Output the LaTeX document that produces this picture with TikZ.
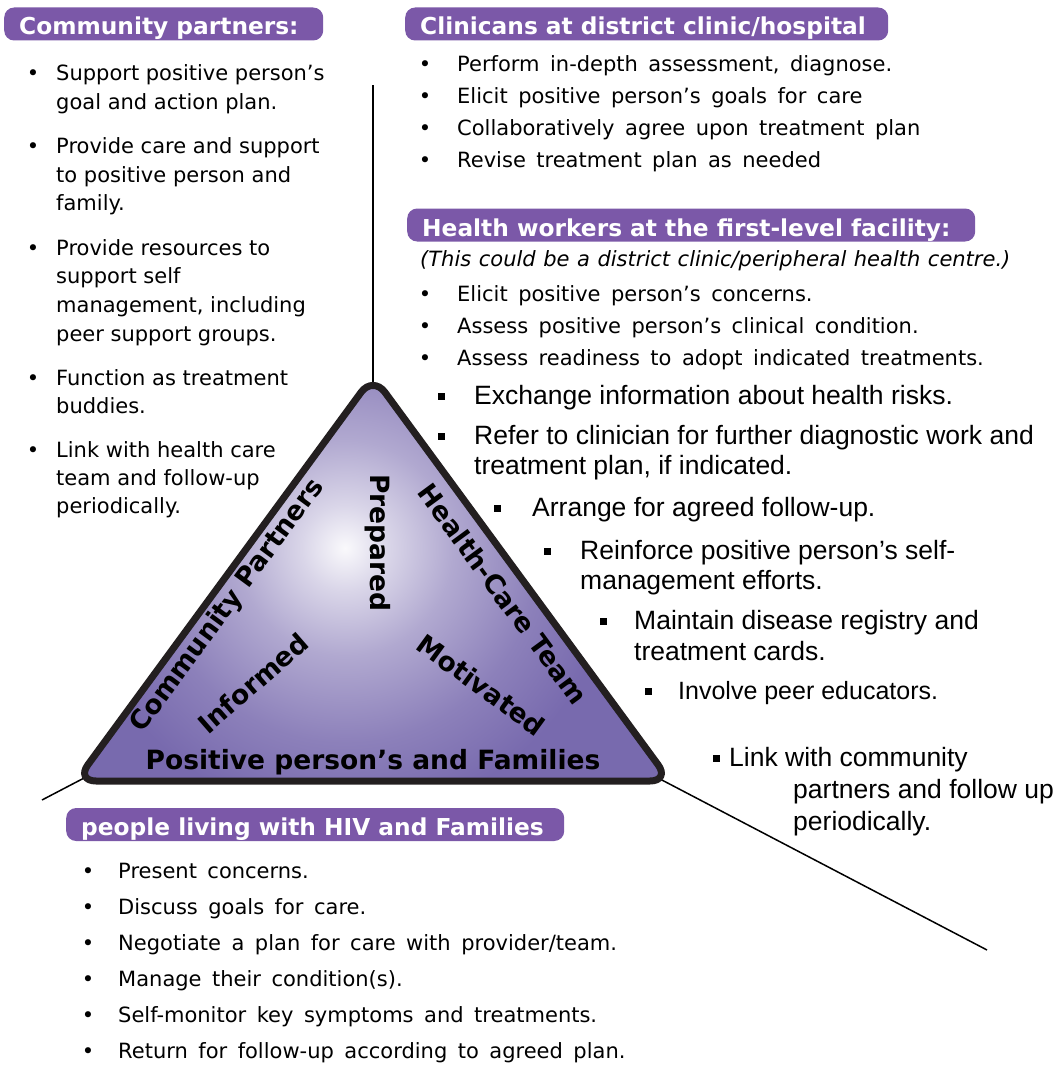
\documentclass[tikz,border=0pt]{standalone}
\usepackage{fontspec}
\setmainfont{DejaVu Sans}
\newfontfamily\arialf{Liberation Sans}
\newcommand\wsp{\spaceskip=0.5em\relax}
\newcommand\isp{\spaceskip=0.36em\relax}
\definecolor{hdrpurple}{HTML}{7B58A8}
\definecolor{tripurple}{HTML}{786AAE}
\definecolor{edgeblack}{HTML}{231F20}
\colorlet{glowA}{white!96!tripurple}
\colorlet{glowB}{white!72!tripurple}
\colorlet{glowC}{white!42!tripurple}
\colorlet{glowD}{white!15!tripurple}
\pgfdeclareradialshading{triglow}{\pgfpoint{0bp}{0bp}}{color(0bp)=(glowA); color(4bp)=(glowB); color(10bp)=(glowC); color(18bp)=(glowD); color(25bp)=(tripurple); color(50bp)=(tripurple)}
\begin{document}
\begin{tikzpicture}[x=1pt,y=-1pt,
  lt/.style={anchor=base west, inner sep=0pt, font={\fontsize{21}{25}\selectfont}},
  wl/.style={anchor=base west, inner sep=0pt, font={\fontsize{21}{25}\selectfont\wsp}},
  it/.style={anchor=base west, inner sep=0pt, font={\itshape\fontsize{21}{25}\selectfont\isp}},
  bul/.style={anchor=base, inner sep=0pt, font={\fontsize{21}{25}\selectfont}},
  sq/.style={anchor=base west, inner sep=0pt, font={\arialf\fontsize{26.5}{30}\selectfont}},
  sqb/.style={rectangle, fill=black, inner sep=0pt, minimum size=7pt},
  hdr/.style={anchor=west, rounded corners=10pt, fill=hdrpurple, text=white, inner xsep=15pt, inner ysep=0pt, minimum height=33pt, text height=22pt, text depth=0pt, font={\bfseries\fontsize{23.3}{27}\selectfont}},
  tri/.style={inner sep=0pt, font={\bfseries\fontsize{26.5}{30}\selectfont}, text=black},
  conn/.style={line width=1.5pt, black}
]
\useasboundingbox (0,0) rectangle (1058,1073);

% ---- triangle geometry ----
\coordinate (A) at (373,376);
\coordinate (B) at (76,781);
\coordinate (C) at (670,781);
\coordinate (lineTop) at (373,85);
\coordinate (apexTop) at (373,386);
\coordinate (lineL) at (42,800);
\coordinate (cornerL) at (86,777);
\coordinate (cornerR) at (660,779);
\coordinate (lineR) at (987,950);

\draw[conn] (lineTop) -- (apexTop);
\draw[conn] (lineL) -- (cornerL);
\draw[conn] (cornerR) -- (lineR);

\begin{scope}
  \clip[rounded corners=20pt] (A) -- (B) -- (C) -- cycle;
  \fill[tripurple] (60,360) rectangle (700,800);
  \shade[shading=triglow] (345,548) circle (270pt);
\end{scope}
\draw[line width=7pt, edgeblack, rounded corners=20pt, line join=round] (A) -- (B) -- (C) -- cycle;

% ---- triangle labels ----
\node[tri, anchor=base] (tbase) at (373,769) {Positive person’s and Families};
\node[tri, rotate=-90] (tprep) at (378,543) {Prepared};
\node[tri, rotate=53.7] (tcomm) at (228,606) {Community Partners};
\node[tri, rotate=-53.7] (thct) at (503,594) {Health-Care Team};
\node[tri, rotate=41] (tinf) at (253,683) {Informed};
\node[tri, rotate=-36] (tmot) at (481,685) {Motivated};

% ---- headers ----
\node[hdr] (hcp) at (4,24) {\makebox[289pt][l]{Community partners:}};
\node[hdr] (hcl) at (405,24) {\makebox[453pt][l]{Clinicans at district clinic/hospital}};
\node[hdr] (hhw) at (407,225) {\makebox[538pt][l]{Health workers at the first-level facility:}};
\node[hdr] (hpl) at (66,824.5) {\makebox[468pt][l]{people living with HIV and Families}};

% ---- community partners list ----
\node[bul] (cb1) at (33,81) {•};
\node[lt] (c1a) at (56,81) {Support positive person’s};
\node[lt] (c1b) at (56,109) {goal and action plan.};
\node[bul] (cb2) at (33,153) {•};
\node[lt] (c2a) at (56,153) {Provide care and support};
\node[lt] (c2b) at (56,182) {to positive person and};
\node[lt] (c2c) at (56,210) {family.};
\node[bul] (cb3) at (33,255) {•};
\node[lt] (c3a) at (56,255) {Provide resources to};
\node[lt] (c3b) at (56,283) {support self};
\node[lt] (c3c) at (56,312) {management, including};
\node[lt] (c3d) at (56,341) {peer support groups.};
\node[bul] (cb4) at (33,385) {•};
\node[lt] (c4a) at (56,385) {Function as treatment};
\node[lt] (c4b) at (56,413) {buddies.};
\node[bul] (cb5) at (33,457) {•};
\node[lt] (c5a) at (56,457) {Link with health care};
\node[lt] (c5b) at (56,485) {team and follow-up};
\node[lt] (c5c) at (56,513) {periodically.};

% ---- clinicians list ----
\node[bul] (kb1) at (425,71) {•};
\node[wl] (k1) at (457,71) {Perform in-depth assessment, diagnose.};
\node[bul] (kb2) at (425,103) {•};
\node[wl] (k2) at (457,103) {Elicit positive person’s goals for care};
\node[bul] (kb3) at (425,135) {•};
\node[wl] (k3) at (457,135) {Collaboratively agree upon treatment plan};
\node[bul] (kb4) at (425,167) {•};
\node[wl] (k4) at (457,167) {Revise treatment plan as needed};

% ---- health workers list ----
\node[it] (hwit) at (420,266) {(This could be a district clinic/peripheral health centre.)};
\node[bul] (wb1) at (425,301) {•};
\node[wl] (w1) at (457,301) {Elicit positive person’s concerns.};
\node[bul] (wb2) at (425,333) {•};
\node[wl] (w2) at (457,333) {Assess positive person’s clinical condition.};
\node[bul] (wb3) at (425,365) {•};
\node[wl] (w3) at (457,365) {Assess readiness to adopt indicated treatments.};

% ---- square bullet list ----
\node[sqb] (sb1) at (441,396) {};
\node[sq] (s1) at (474,404) {Exchange information about health risks.};
\node[sqb] (sb2) at (441,436) {};
\node[sq] (s2a) at (474,444) {Refer to clinician for further diagnostic work and};
\node[sq] (s2b) at (474,474) {treatment plan, if indicated.};
\node[sqb] (sb3) at (497,508) {};
\node[sq] (s3) at (532,516) {Arrange for agreed follow-up.};
\node[sqb] (sb4) at (547,551) {};
\node[sq] (s4a) at (580,559) {Reinforce positive person’s self-};
\node[sq] (s4b) at (580,589) {management efforts.};
\node[sqb] (sb5) at (603,621) {};
\node[sq] (s5a) at (634,629) {Maintain disease registry and};
\node[sq] (s5b) at (634,660) {treatment cards.};
\node[sqb] (sb6) at (648,691) {};
\node[sq, font={\arialf\fontsize{25}{30}\selectfont}] (s6) at (678,699) {Involve peer educators.};
\node[sqb] (sb7) at (716,758) {};
\node[sq] (s7a) at (729,766) {Link with community};
\node[sq] (s7b) at (793,798) {partners and follow up};
\node[sq] (s7c) at (793,830) {periodically.};

% ---- people living with HIV list ----
\node[bul] (pb1) at (88,878) {•};
\node[wl] (p1) at (118,878) {Present concerns.};
\node[bul] (pb2) at (88,914) {•};
\node[wl] (p2) at (118,914) {Discuss goals for care.};
\node[bul] (pb3) at (88,950) {•};
\node[wl] (p3) at (118,950) {Negotiate a plan for care with provider/team.};
\node[bul] (pb4) at (88,986) {•};
\node[wl] (p4) at (118,986) {Manage their condition(s).};
\node[bul] (pb5) at (88,1022) {•};
\node[wl] (p5) at (118,1022) {Self-monitor key symptoms and treatments.};
\node[bul] (pb6) at (88,1058) {•};
\node[wl] (p6) at (118,1058) {Return for follow-up according to agreed plan.};
\end{tikzpicture}
\end{document}
